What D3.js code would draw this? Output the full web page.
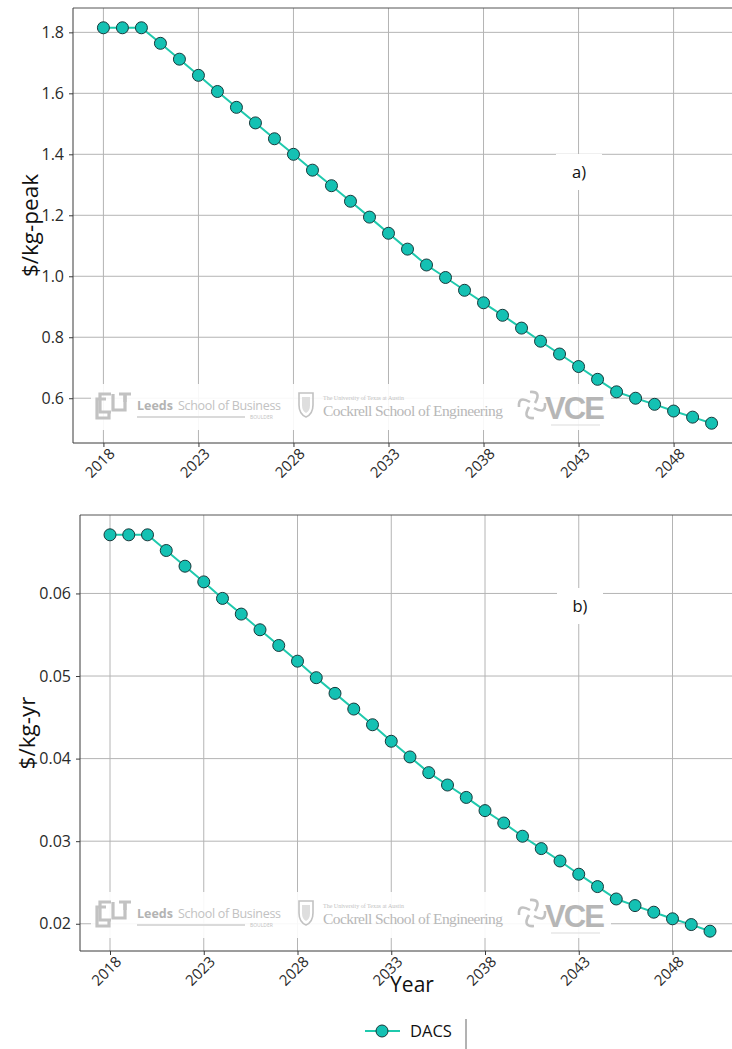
<!DOCTYPE html>
<html>
<head>
<meta charset="utf-8">
<script src="https://cdn.jsdelivr.net/npm/d3@7"></script>
<style>
  html, body { margin: 0; padding: 0; background: #fff; }
  svg { display: block; font-family: "Open Sans", "Noto Sans", sans-serif; }
</style>
</head>
<body>
<svg id="chart" width="732" height="1049"></svg>
<script>
// Projected DACS cost, 2018-2050
const years = d3.range(2018, 2051);
const costPerKgPeak = [
  1.815, 1.815, 1.815, 1.764, 1.712, 1.659, 1.606, 1.554, 1.503, 1.451,
  1.400, 1.348, 1.297, 1.246, 1.194, 1.141, 1.089, 1.037, 0.996, 0.954,
  0.913, 0.872, 0.830, 0.787, 0.745, 0.704, 0.662, 0.621, 0.600, 0.580,
  0.558, 0.538, 0.518
];
const costPerKgYr = [
  0.0671, 0.0671, 0.0671, 0.0652, 0.0633, 0.0614, 0.0594, 0.0575, 0.0556, 0.0537,
  0.0518, 0.0498, 0.0479, 0.0460, 0.0441, 0.0421, 0.0402, 0.0383, 0.0368, 0.0353,
  0.0337, 0.0322, 0.0306, 0.0291, 0.0276, 0.0260, 0.0245, 0.0230, 0.0222, 0.0214,
  0.0206, 0.0199, 0.0191
];
const yearTicks = [2018, 2023, 2028, 2033, 2038, 2043, 2048];
const peakTicks = [0.6, 0.8, 1.0, 1.2, 1.4, 1.6, 1.8];
const yrTicks = [0.02, 0.03, 0.04, 0.05, 0.06];
const seriesName = "DACS";

const svg = d3.select("#chart");

const LINE = "#1fc9ad";
const MARK_FILL = "#14c1b3";
const MARK_EDGE = "#17383a";
const GRID = "#b4b4b4";
const SPINE = "#3a3a3a";
const TEXT = "#2a2a2a";
const LOGO = "#c2c2c2";

// Faint university / partner logos drawn behind the data
function watermark(g) {
  g.append("rect").attr("x", -4).attr("y", -4).attr("width", 520).attr("height", 46)
    .attr("fill", "#fff").attr("opacity", 0.9);

  // CU interlocking mark
  const cu = g.append("g").attr("fill", "none").attr("stroke", LOGO).attr("stroke-width", 3.2);
  cu.append("path").attr("d", "M16,6 H5 V24 H16");
  cu.append("path").attr("d", "M11,11 H2 V30 H14 V24");
  cu.append("path").attr("d", "M18,6 V22 H30 V6");
  cu.append("path").attr("d", "M24,6 H36 M30,6 V14");
  g.append("text").attr("x", 42).attr("y", 22).attr("font-size", 12.5).attr("font-weight", "bold")
    .attr("fill", "#b3b3b3").text("Leeds");
  g.append("text").attr("x", 83).attr("y", 22).attr("font-size", 12.5)
    .attr("fill", LOGO).attr("textLength", 103).text("School of Business");
  g.append("line").attr("x1", 42).attr("x2", 150).attr("y1", 29).attr("y2", 29)
    .attr("stroke", "#dadada").attr("stroke-width", 2);
  g.append("text").attr("x", 155).attr("y", 31).attr("font-size", 5)
    .attr("fill", LOGO).text("BOULDER");

  // UT shield
  g.append("path").attr("d", "M204,5 H218 V17 Q218,26 211,29 Q204,26 204,17 Z")
    .attr("fill", "none").attr("stroke", LOGO).attr("stroke-width", 1.6);
  g.append("path").attr("d", "M207,9 H215 V17 Q215,23 211,25 Q207,23 207,17 Z")
    .attr("fill", "#dedede");
  g.append("text").attr("x", 228).attr("y", 12).attr("font-size", 6)
    .attr("font-family", "Liberation Serif, serif").attr("fill", LOGO)
    .text("The University of Texas at Austin");
  g.append("text").attr("x", 228).attr("y", 28).attr("font-size", 15.5)
    .attr("font-family", "Liberation Serif, serif").attr("fill", "#b8b8b8")
    .attr("textLength", 180).text("Cockrell School of Engineering");

  // VCE swirl and lettering
  const sw = g.append("g").attr("transform", "translate(437,17)")
    .attr("fill", "none").attr("stroke", LOGO).attr("stroke-width", 2.6);
  [0, 90, 180, 270].forEach(a => {
    sw.append("path").attr("d", "M3,-2 Q10,-14 -2,-13").attr("transform", `rotate(${a})`);
  });
  g.append("text").attr("x", 450).attr("y", 31).attr("font-size", 31).attr("font-weight", "bold")
    .attr("font-family", "Liberation Sans, Arial, sans-serif")
    .attr("fill", "#b6b6b6").attr("textLength", 60).text("VCE");
  g.append("line").attr("x1", 456).attr("x2", 505).attr("y1", 37).attr("y2", 37)
    .attr("stroke", "#dcdcdc").attr("stroke-width", 1.2);
}

function panel(cfg) {
  const x = d3.scaleLinear().domain([2016.4, 2051.6]).range([cfg.left, cfg.right]);
  const y = d3.scaleLinear().domain(cfg.yDomain).range([cfg.bottom, cfg.top]);
  const g = svg.append("g");

  // grid
  g.append("g").selectAll("line").data(yearTicks).join("line")
    .attr("x1", d => x(d)).attr("x2", d => x(d))
    .attr("y1", cfg.top).attr("y2", cfg.bottom)
    .attr("stroke", GRID).attr("stroke-width", 1);
  g.append("g").selectAll("line").data(cfg.yTicks).join("line")
    .attr("x1", cfg.left).attr("x2", cfg.right)
    .attr("y1", d => y(d)).attr("y2", d => y(d))
    .attr("stroke", GRID).attr("stroke-width", 1);

  // watermark
  watermark(g.append("g").attr("transform", `translate(95,${cfg.wmY})`));

  // panel tag
  const tag = g.append("g").attr("transform", `translate(${cfg.tagX},${cfg.tagY})`);
  tag.append("rect").attr("x", -23).attr("y", -18).attr("width", 46).attr("height", 36)
    .attr("fill", "#fff");
  tag.append("text").attr("text-anchor", "middle").attr("dy", "0.35em")
    .attr("font-size", 16.5).attr("fill", "#111").text(cfg.tag);

  // top spine
  g.append("line").attr("x1", cfg.left).attr("x2", cfg.right).attr("y1", cfg.top).attr("y2", cfg.top)
    .attr("stroke", "#555").attr("stroke-width", 1);

  // axes
  const yAxis = d3.axisLeft(y).tickValues(cfg.yTicks).tickFormat(d3.format(cfg.fmt))
    .tickSize(4).tickPadding(5);
  const ya = g.append("g").attr("transform", `translate(${cfg.left},0)`).call(yAxis);
  ya.select(".domain").attr("d", `M0,${cfg.top}V${cfg.bottom}`).attr("stroke", SPINE);
  ya.selectAll(".tick line").attr("stroke", SPINE);
  ya.selectAll(".tick text").attr("font-size", 16).attr("fill", TEXT)
    .attr("font-family", "Open Sans, sans-serif");

  const xAxis = d3.axisBottom(x).tickValues(yearTicks).tickFormat(d3.format("d")).tickSize(4);
  const xa = g.append("g").attr("transform", `translate(0,${cfg.bottom})`).call(xAxis);
  xa.select(".domain").attr("d", `M${cfg.left},0H${cfg.right}`).attr("stroke", SPINE);
  xa.selectAll(".tick line").attr("stroke", SPINE);
  xa.selectAll(".tick text")
    .attr("y", 0).attr("dy", "0.35em")
    .attr("transform", "translate(-4,20) rotate(-45)")
    .attr("text-anchor", "middle")
    .attr("font-size", 15).attr("fill", TEXT)
    .attr("font-family", "Open Sans, sans-serif");

  // y label
  g.append("text").attr("transform", `translate(${cfg.ylabX},${(cfg.top + cfg.bottom) / 2}) rotate(-90)`)
    .attr("text-anchor", "middle").attr("dy", "0.35em")
    .attr("font-size", 22.5).attr("fill", "#111").text(cfg.ylabel);

  // series
  const pts = years.map((yr, i) => [yr, cfg.values[i]]);
  g.append("path").datum(pts)
    .attr("d", d3.line().x(d => x(d[0])).y(d => y(d[1])))
    .attr("fill", "none").attr("stroke", LINE).attr("stroke-width", 2);
  g.append("g").selectAll("circle").data(pts).join("circle")
    .attr("cx", d => x(d[0])).attr("cy", d => y(d[1])).attr("r", 6)
    .attr("fill", MARK_FILL).attr("stroke", MARK_EDGE).attr("stroke-width", 1);
}

function padded(vals) {
  const lo = d3.min(vals), hi = d3.max(vals), m = (hi - lo) * 0.05;
  return [lo - m, hi + m];
}

panel({
  left: 73, right: 742, top: 8, bottom: 443,
  yDomain: padded(costPerKgPeak), yTicks: peakTicks, fmt: ".1f",
  values: costPerKgPeak, ylabel: "$/kg-peak", ylabX: 30,
  tag: "a)", tagX: 579, tagY: 172, wmY: 388
});

panel({
  left: 80, right: 740, top: 515, bottom: 951,
  yDomain: padded(costPerKgYr), yTicks: yrTicks, fmt: ".2f",
  values: costPerKgYr, ylabel: "$/kg-yr", ylabX: 27,
  tag: "b)", tagX: 580, tagY: 606, wmY: 896
});

// shared x label
svg.append("text").attr("x", 412).attr("y", 992).attr("text-anchor", "middle")
  .attr("font-size", 21).attr("fill", "#111").text("Year");

// legend
const lg = svg.append("g").attr("transform", "translate(0,1031)");
lg.append("line").attr("x1", 365).attr("x2", 400).attr("y1", 0).attr("y2", 0)
  .attr("stroke", LINE).attr("stroke-width", 2);
lg.append("circle").attr("cx", 382).attr("cy", 0).attr("r", 6)
  .attr("fill", MARK_FILL).attr("stroke", MARK_EDGE).attr("stroke-width", 1);
lg.append("text").attr("x", 410).attr("y", 0).attr("dy", "0.35em")
  .attr("font-size", 16.5).attr("fill", "#111").text(seriesName);
lg.append("line").attr("x1", 466).attr("x2", 466).attr("y1", -12).attr("y2", 18)
  .attr("stroke", "#666").attr("stroke-width", 1);
</script>
</body>
</html>
